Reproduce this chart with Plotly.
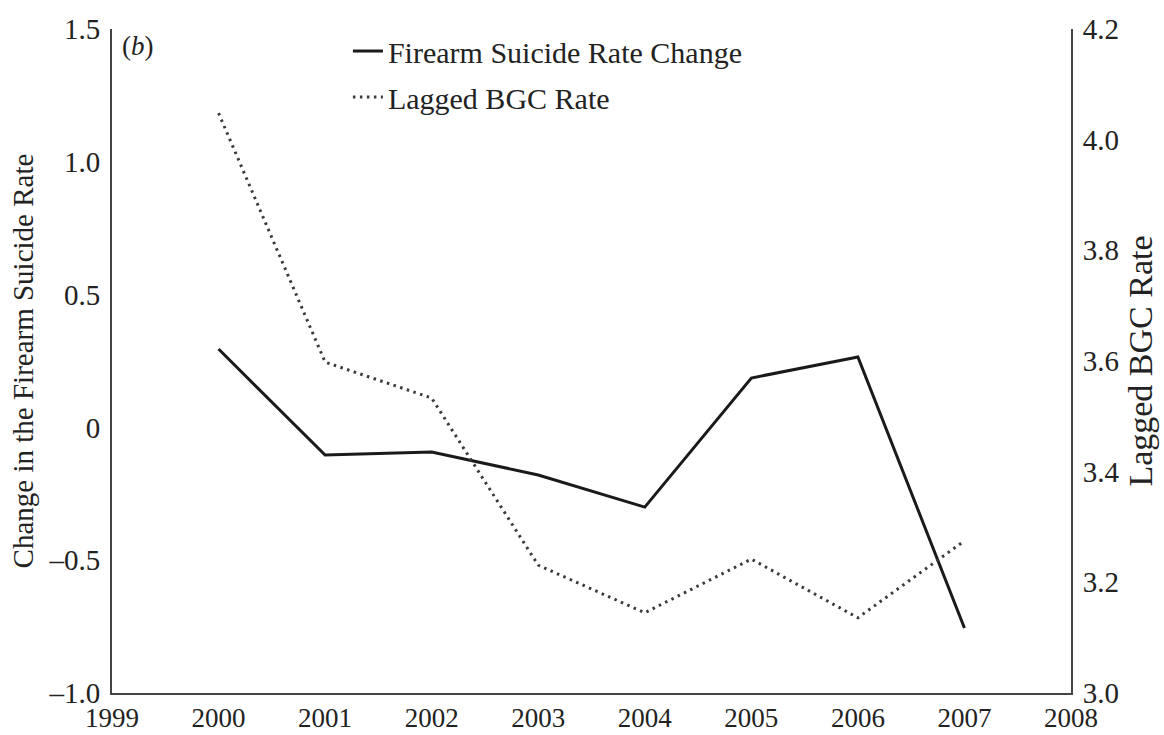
import plotly.graph_objects as go

years = [2000, 2001, 2002, 2003, 2004, 2005, 2006, 2007]
suicide_change = [0.295, -0.104, -0.093, -0.179, -0.300, 0.186, 0.265, -0.755]
lagged_bgc = [4.048, 3.598, 3.533, 3.231, 3.145, 3.242, 3.136, 3.275]

x_ticks = list(range(1999, 2009))
left_ticks = [-1.0, -0.5, 0, 0.5, 1.0, 1.5]
left_labels = ["\u20131.0", "\u20130.5", "0", "0.5", "1.0", "1.5"]
right_ticks = [3.0, 3.2, 3.4, 3.6, 3.8, 4.0, 4.2]
right_labels = ["3.0", "3.2", "3.4", "3.6", "3.8", "4.0", "4.2"]

FONT = "Liberation Serif"
TXT = "#222222"
AX = "#444444"

fig = go.Figure()
fig.add_trace(go.Scatter(
    x=years, y=suicide_change, mode="lines", name="Firearm Suicide Rate Change",
    line=dict(color="#1a1a1a", width=3), legendgroup="a", yaxis="y"))
fig.add_trace(go.Scatter(
    x=years, y=lagged_bgc, mode="lines", name="Lagged BGC Rate",
    line=dict(color="#3a3a3a", width=3, dash="2.5px,4.5px"), legendgroup="b", yaxis="y2"))

fig.update_layout(
    width=1164, height=735,
    margin=dict(l=112, r=93, t=29, b=42),
    paper_bgcolor="white", plot_bgcolor="white",
    font=dict(family=FONT, size=29, color=TXT),
    showlegend=True,
    legend=dict(x=0.246, y=1.006, xanchor="left", yanchor="top",
                bgcolor="rgba(0,0,0,0)", font=dict(size=30, color=TXT),
                tracegroupgap=4, itemwidth=30),
    xaxis=dict(range=[1999, 2008], tickvals=x_ticks, ticktext=[str(v) for v in x_ticks],
               showgrid=False, zeroline=False, showline=True, linecolor=AX, linewidth=2,
               ticks="", mirror=False, tickfont=dict(size=27, color=TXT),
               ticklabelstandoff=0, automargin=False),
    yaxis=dict(range=[-1.0, 1.5], tickvals=left_ticks, ticktext=left_labels,
               showgrid=False, zeroline=False, showline=True, linecolor=AX, linewidth=2,
               ticks="", tickfont=dict(size=29, color=TXT), ticklabelstandoff=4, automargin=False,
               title=dict(text="Change in the Firearm Suicide Rate", font=dict(size=29, color=TXT), standoff=6)),
    yaxis2=dict(range=[3.0, 4.2], tickvals=right_ticks, ticktext=right_labels,
                overlaying="y", side="right", automargin=False,
                showgrid=False, zeroline=False, showline=True, linecolor=AX, linewidth=2,
                ticks="", tickfont=dict(size=29, color=TXT), ticklabelstandoff=4,
                title=dict(text="Lagged BGC Rate", font=dict(size=34, color=TXT), standoff=10)),
    annotations=[dict(text="(<i>b</i>)", x=0.008, y=1.0, xref="paper", yref="paper",
                      xanchor="left", yanchor="top", showarrow=False,
                      font=dict(size=27, color=TXT, family=FONT))],
)

fig.write_html("out.html")
